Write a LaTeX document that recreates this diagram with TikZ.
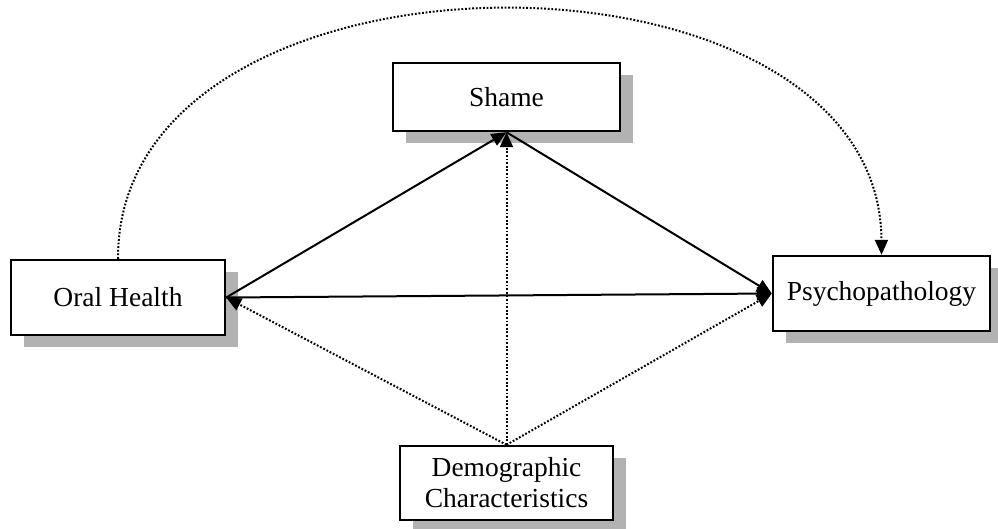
\documentclass[tikz,border=0pt]{standalone}
\usepackage{fontspec}
\setmainfont{Liberation Serif}
\usetikzlibrary{arrows.meta,shadows}
\begin{document}
\begin{tikzpicture}[x=1pt,y=-1pt,
  box/.style={draw=black, line width=2.4pt, fill=white, inner sep=0pt,
    font=\fontsize{27.5}{31}\selectfont, align=center,
    drop shadow={shadow xshift=13pt, shadow yshift=-12pt, fill=black!30, opacity=1}},
  tip/.style={-{Triangle[length=15pt,width=13pt]}},
  solidarr/.style={tip, line width=2pt},
  dotarr/.style={tip, line width=2pt, dash pattern=on 1.8pt off 1.8pt}]
\useasboundingbox (0,0) rectangle (998,529);
\node[box, minimum width=214pt, minimum height=75pt] (oral) at (118,297.5) {Oral Health};
\node[box, minimum width=227pt, minimum height=68pt] (shame) at (506.5,97) {Shame};
\node[box, minimum width=217pt, minimum height=75pt] (psych) at (881.5,293.5) {Psychopathology};
\node[box, minimum width=213pt, minimum height=74pt] (demo) at (506.5,483) {Demographic\\Characteristics};
\draw[solidarr] (oral.east) -- (shame.south);
\draw[solidarr] (shame.south) -- (psych.west);
\draw[solidarr] (oral.east) -- (psych.west);
\draw[dotarr] (demo.north) -- (oral.east);
\draw[dotarr] (demo.north) -- (shame.south);
\draw[dotarr] (demo.north) -- (psych.west);
\draw[dotarr] (oral.north) .. controls (117,-73) and (880,-73) .. (psych.north);
\end{tikzpicture}
\end{document}
